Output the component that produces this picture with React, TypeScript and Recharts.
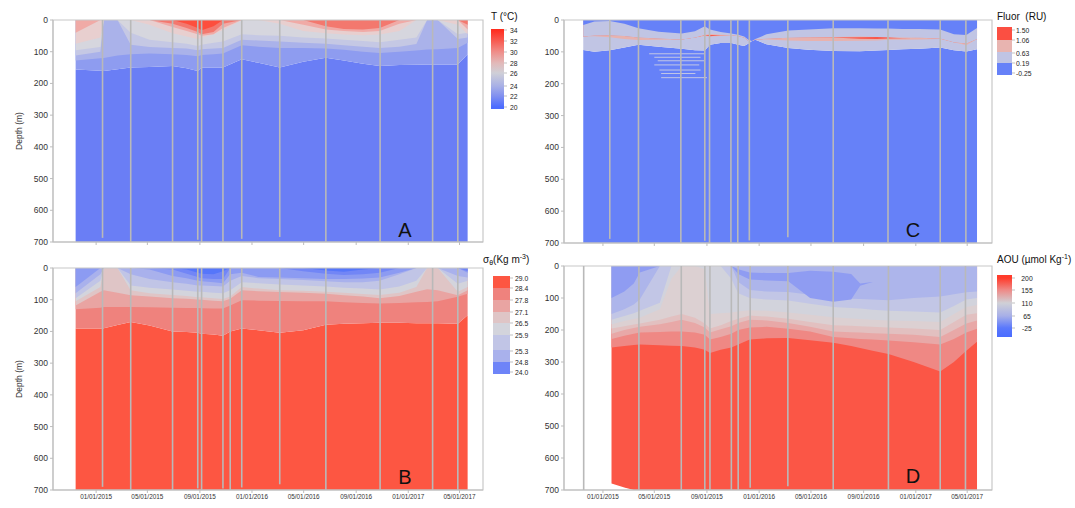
import React from "react";
import { ComposedChart, Area, XAxis, YAxis, ReferenceLine, ReferenceArea } from "recharts";

const FONT = '"Liberation Sans", Arial, Helvetica, sans-serif';
const AXIS_GRAY = "#bdbdbd";
const FRAME_GRAY = "#c8c8c8";
const STATION_GRAY = "#b9b9b9";

// x axis: days since 01/01/2015
const DATE_TICKS = [0, 120, 243, 365, 486, 609, 731, 851];
const DATE_LABELS = ["01/01/2015", "05/01/2015", "09/01/2015", "01/01/2016", "05/01/2016", "09/01/2016", "01/01/2017", "05/01/2017"];
const DEPTH_TICKS = [0, 100, 200, 300, 400, 500, 600, 700];

// ---- A: temperature, depth (m) of each isotherm ----
const A_DAYS = [-48, 10, 18, 50, 81, 125, 179, 212, 238, 247, 275, 297, 341, 380, 430, 485, 538, 580, 625, 664, 710, 750, 775, 800, 847, 870];
const A_T22 = [156, 160, 161, 155, 150, 148, 145, 152, 161, 150, 150, 150, 124, 135, 150, 132, 119, 128, 138, 145, 142, 141, 140, 140, 140, 108];
const A_T23 = [128, 121, 120, 112, 108, 106, 108, 110, 114, 110, 108, 106, 80, 84, 88, 88, 90, 94, 100, 104, 100, 96, 93, 92, 88, 72];
const A_T24 = [112, 100, 0, 0, 78, 85, 88, 90, 95, 92, 90, 88, 62, 65, 68, 72, 75, 80, 84, 88, 84, 76, 0, 0, 60, 55];
const A_T25 = [95, 85, 0, 0, 40, 62, 70, 75, 82, 78, 72, 68, 45, 48, 50, 55, 58, 62, 66, 70, 62, 55, 0, 0, 45, 40];
const A_T27 = [75, 55, 0, 0, 0, 15, 42, 52, 60, 56, 45, 32, 0, 0, 12, 35, 42, 46, 48, 46, 35, 0, 0, 0, 15, 45];
const A_T29 = [40, 0, 0, 0, 0, 0, 22, 35, 45, 50, 45, 25, 0, 0, 0, 15, 30, 35, 38, 35, 12, 0, 0, 0, 0, 30];
const A_T31 = [0, 0, 0, 0, 0, 0, 12, 25, 38, 45, 38, 12, 0, 0, 0, 0, 20, 28, 30, 25, 0, 0, 0, 0, 0, 15];
const A_T33 = [0, 0, 0, 0, 0, 0, 0, 12, 25, 32, 20, 0, 0, 0, 0, 0, 0, 0, 0, 0, 0, 0, 0, 0, 0, 0];
const A_STATIONS = [15, 81, 179, 238, 247, 297, 341, 430, 538, 665, 788, 847];
const A_STATION_ENDS = [687, 700, 700, 693, 700, 700, 690, 684, 700, 700, 700, 700];

// ---- B: sigma-theta ----
const B_DAYS = [-48, 10, 18, 50, 81, 125, 179, 212, 238, 247, 275, 297, 314, 341, 380, 430, 485, 538, 580, 625, 664, 710, 750, 775, 800, 847, 870];
const B_S290 = [191, 191, 190, 180, 170, 181, 200, 202, 204, 207, 210, 214, 200, 191, 196, 204, 196, 179, 176, 174, 173, 173, 174, 174, 174, 176, 149];
const B_S284 = [130, 125, 123, 123, 123, 124, 125, 126, 126, 127, 128, 128, 118, 102, 103, 104, 105, 105, 108, 110, 112, 110, 108, 107, 105, 91, 81];
const B_S278 = [118, 75, 70, 78, 86, 90, 95, 97, 99, 100, 103, 105, 97, 70, 73, 76, 78, 81, 86, 90, 95, 88, 75, 67, 70, 86, 70];
const B_S271 = [105, 60, 0, 0, 70, 80, 85, 88, 92, 92, 95, 98, 90, 60, 65, 70, 72, 75, 78, 82, 85, 78, 60, 0, 0, 75, 60];
const B_S265 = [95, 40, 0, 0, 55, 62, 68, 72, 75, 75, 78, 80, 70, 45, 48, 52, 55, 58, 62, 65, 68, 58, 40, 0, 0, 50, 40];
const B_S259 = [80, 20, 0, 0, 20, 35, 45, 50, 55, 55, 57, 58, 40, 25, 32, 35, 38, 42, 45, 45, 40, 20, 0, 0, 0, 25, 30];
const B_S253 = [60, 0, 0, 0, 0, 5, 25, 32, 40, 42, 45, 48, 20, 15, 28, 30, 32, 35, 35, 33, 30, 15, 0, 0, 0, 0, 15];
const B_S248 = [0, 0, 0, 0, 0, 0, 5, 18, 28, 32, 35, 35, 0, 0, 0, 0, 10, 18, 22, 20, 15, 0, 0, 0, 0, 0, 10];
const B_S240 = [0, 0, 0, 0, 0, 0, 0, 5, 15, 18, 20, 10, 0, 0, 0, 0, 0, 8, 12, 5, 0, 0, 0, 0, 0, 0, 0];
const B_STATIONS = [15, 81, 179, 238, 247, 297, 314, 341, 430, 538, 665, 788, 847];
const B_STATION_ENDS = [690, 700, 700, 695, 700, 695, 700, 692, 682, 700, 700, 700, 700];

// ---- C: fluorescence, top/bottom of each band ----
const C_DAYS = [-46, -20, 16, 50, 83, 130, 184, 215, 238, 250, 275, 300, 316, 330, 340, 348, 356, 382, 433, 480, 538, 600, 640, 667, 700, 740, 788, 820, 849, 874];
const C_LOW_TOP = [16, 5, 3, 12, 26, 37, 42, 35, 20, 30, 38, 42, 46, 52, 62, 66, 60, 45, 33, 30, 26, 26, 27, 27, 28, 28, 30, 45, 47, 25];
const C_LOW_BOT = [94, 100, 95, 86, 78, 84, 90, 95, 96, 78, 72, 72, 78, 82, 74, 66, 62, 76, 88, 93, 97, 98, 96, 94, 92, 90, 86, 95, 99, 92];
const C_MID_TOP = [52, 49, 48, 50, 55, 58, 61, 55, 46, 44, 46, 47, 50, 55, 66, 66, 61, 59, 56, 54, 53, 52, 53, 54, 55, 56, 58, 70, 74, 60];
const C_MID_BOT = [52, 51, 54, 60, 63, 62, 61, 55, 50, 52, 50, 48, 50, 55, 66, 66, 61, 61, 64, 66, 66, 65, 64, 62, 62, 61, 60, 70, 79, 60];
const C_HIGH_TOP = [52, 49, 48, 50, 55, 58, 61, 55, 48, 47, 48, 47, 50, 55, 66, 66, 61, 59, 56, 54, 55, 54, 53, 54, 57, 56, 58, 70, 74, 60];
const C_HIGH_BOT = [52, 49, 48, 50, 55, 58, 61, 55, 48, 51, 48, 47, 50, 55, 66, 66, 61, 59, 56, 54, 55, 59, 60, 58, 57, 56, 58, 70, 74, 60];
const C_STREAK_DEPTH = [106, 117, 128, 141, 157, 168, 181];
const C_STREAK_FROM = [108, 120, 128, 120, 132, 136, 136];
const C_STREAK_TO = [236, 228, 236, 225, 228, 216, 243];
const C_STATIONS = [16, 83, 182, 238, 249, 299, 315, 342, 432, 538, 666, 788, 848];
const C_STATION_ENDS = [687, 700, 700, 693, 700, 700, 700, 692, 682, 700, 700, 700, 700];

// ---- D: AOU ----
const D_DAYS = [20, 50, 72, 86, 133, 160, 184, 215, 238, 250, 275, 300, 316, 343, 383, 433, 484, 538, 580, 601, 630, 667, 726, 788, 820, 849, 874];
const D_BOTTOM = [680, 692, 700, 700, 700, 700, 700, 700, 700, 700, 700, 700, 700, 700, 700, 700, 700, 700, 700, 700, 700, 700, 700, 700, 700, 700, 700];
const D_A200 = [255, 250, 247, 245, 248, 249, 250, 255, 262, 272, 262, 255, 245, 230, 226, 225, 232, 240, 250, 256, 265, 275, 300, 330, 300, 265, 237];
const D_A170 = [228, 218, 212, 208, 206, 205, 205, 208, 215, 230, 222, 212, 200, 192, 190, 196, 205, 222, 226, 228, 230, 233, 238, 245, 228, 208, 196];
const D_A155 = [212, 200, 194, 190, 182, 175, 168, 178, 192, 208, 198, 188, 178, 168, 170, 178, 190, 205, 207, 208, 210, 212, 215, 222, 200, 180, 170];
const D_A140 = [195, 188, 183, 180, 168, 158, 150, 162, 180, 195, 185, 172, 165, 155, 158, 165, 175, 185, 187, 188, 190, 192, 195, 200, 175, 152, 148];
const D_A125 = [182, 172, 166, 162, 135, 40, 0, 0, 10, 150, 148, 145, 142, 138, 140, 145, 152, 160, 164, 166, 168, 170, 172, 175, 150, 128, 122];
const D_A110 = [168, 156, 148, 140, 115, 0, 0, 0, 0, 0, 0, 40, 85, 100, 105, 108, 118, 128, 131, 133, 137, 140, 142, 145, 125, 105, 100];
const D_A90 = [150, 135, 120, 105, 0, 0, 0, 0, 0, 0, 0, 0, 50, 75, 80, 81, 90, 100, 102, 103, 105, 107, 100, 95, 88, 82, 80];
const D_A65 = [100, 80, 55, 20, 0, 0, 0, 0, 0, 0, 0, 0, 0, 0, 0, 0, 0, 0, 0, 0, 0, 0, 0, 0, 0, 0, 0];
const D_LOW_BOT = [0, 0, 0, 0, 0, 0, 0, 0, 0, 0, 0, 0, 25, 42, 45, 48, 100, 112, 105, 62, 50, 50, 50, 50, 50, 50, 50];
const D_LOW_TOP = [0, 0, 0, 0, 0, 0, 0, 0, 0, 0, 0, 0, 10, 20, 22, 22, 15, 18, 25, 55, 50, 50, 50, 50, 50, 50, 50];
const D_STATIONS = [-45, 84, 183, 238, 250, 300, 316, 344, 432, 538, 667, 788, 847];
const D_STATION_ENDS = [700, 700, 700, 700, 700, 700, 700, 693, 688, 700, 700, 700, 700];

// colour bars
const T_LEVELS = [34, 32, 30, 28, 26, 24, 22, 20];
const SIGMA_LEVELS = [29.0, 28.4, 27.8, 27.1, 26.5, 25.9, 25.3, 24.8, 24.0];
const FLUOR_LEVELS = [1.5, 1.06, 0.63, 0.19, -0.25];
const AOU_LEVELS = [200, 155, 110, 65, -25];

const rowsA = A_DAYS.map((day, i) => ({
  day, t22: A_T22[i], t23: A_T23[i], t24: A_T24[i], t25: A_T25[i],
  t27: A_T27[i], t29: A_T29[i], t31: A_T31[i], t33: A_T33[i],
}));
const rowsB = B_DAYS.map((day, i) => ({
  day, s290: B_S290[i], s284: B_S284[i], s278: B_S278[i], s271: B_S271[i],
  s265: B_S265[i], s259: B_S259[i], s253: B_S253[i], s248: B_S248[i], s240: B_S240[i],
}));
const rowsC = C_DAYS.map((day, i) => ({
  day, lowTop: C_LOW_TOP[i], lowBot: C_LOW_BOT[i], midTop: C_MID_TOP[i],
  midBot: C_MID_BOT[i], highTop: C_HIGH_TOP[i], highBot: C_HIGH_BOT[i],
}));
const rowsD = D_DAYS.map((day, i) => ({
  day, bottom: D_BOTTOM[i], a200: D_A200[i], a170: D_A170[i], a155: D_A155[i],
  a140: D_A140[i], a125: D_A125[i], a110: D_A110[i], a90: D_A90[i], a65: D_A65[i],
  lowBot: D_LOW_BOT[i], lowTop: D_LOW_TOP[i],
}));

type Layer = { key: string; color: string; base?: number };

const LAYERS_A: Layer[] = [
  { key: "t22", color: "#6a7ef5", base: 700 },
  { key: "t22", color: "#8e9cf0" },
  { key: "t23", color: "#aab2ea" },
  { key: "t24", color: "#c5c8e4" },
  { key: "t25", color: "#d6d6de" },
  { key: "t27", color: "#e8cfcf" },
  { key: "t29", color: "#f0aaa6" },
  { key: "t31", color: "#f3786e" },
  { key: "t33", color: "#fd4e3d" },
];
const LAYERS_B: Layer[] = [
  { key: "s290", color: "#fd5642", base: 700 },
  { key: "s290", color: "#ef827d" },
  { key: "s284", color: "#e9a4a2" },
  { key: "s278", color: "#dfc5c6" },
  { key: "s271", color: "#d3d4dc" },
  { key: "s265", color: "#c1c5e6" },
  { key: "s259", color: "#a9b1ec" },
  { key: "s253", color: "#8c9bf2" },
  { key: "s248", color: "#7286f6" },
  { key: "s240", color: "#5676fa" },
];
const C_BLUE = "#6681f8";
const C_GRAY = "#c1c5e4";
const C_PINK = "#e8b2ae";
const LAYERS_C: Layer[] = [
  { key: "lowBot", color: C_BLUE, base: 700 },
  { key: "lowBot", color: C_GRAY },
  { key: "midBot", color: C_PINK },
  { key: "highBot", color: "#f9574a" },
  { key: "highTop", color: C_PINK },
  { key: "midTop", color: C_GRAY },
  { key: "lowTop", color: C_BLUE },
];
const LAYERS_D: Layer[] = [
  { key: "bottom", color: "#fb5646" },
  { key: "a200", color: "#ef8884" },
  { key: "a170", color: "#e8a8a7" },
  { key: "a155", color: "#e2c0c0" },
  { key: "a140", color: "#dcd0d2" },
  { key: "a125", color: "#d2d3dc" },
  { key: "a110", color: "#c2c6e6" },
  { key: "a90", color: "#adb5eb" },
  { key: "a65", color: "#8f9cf2" },
  { key: "lowBot", color: "#8f9cf2" },
  { key: "lowTop", color: "#adb5eb" },
];

interface SectionProps {
  left: number;
  top: number;
  width: number;
  height: number;
  margin: { top: number; right: number; bottom: number; left: number };
  yWidth: number;
  xHeight: number;
  domain: [number, number];
  rows: Record<string, number>[];
  layers: Layer[];
  stations: number[];
  stationEnds: number[];
  dates: boolean;
  streaks?: boolean;
}

function Section(p: SectionProps) {
  return (
    <div style={{ position: "absolute", left: p.left, top: p.top }}>
      <ComposedChart width={p.width} height={p.height} data={p.rows} margin={p.margin}>
        <XAxis
          dataKey="day"
          type="number"
          domain={p.domain}
          allowDataOverflow
          ticks={DATE_TICKS}
          interval={0}
          height={p.xHeight}
          tickSize={3}
          tickMargin={1}
          stroke={AXIS_GRAY}
          tick={{ fontSize: 6.4, fill: "#333", fontFamily: FONT }}
          tickFormatter={(v: number) => (p.dates ? DATE_LABELS[DATE_TICKS.indexOf(v)] ?? "" : "")}
        />
        <YAxis
          type="number"
          domain={[0, 700]}
          reversed
          ticks={DEPTH_TICKS}
          interval={0}
          width={p.yWidth}
          tickSize={3}
          tickMargin={2}
          stroke={AXIS_GRAY}
          tick={{ fontSize: 8.5, fill: "#333", fontFamily: FONT }}
        />
        {p.layers.map((l, i) => (
          <Area
            key={`${l.key}-${i}`}
            dataKey={l.key}
            type="linear"
            baseValue={l.base ?? 0}
            stroke="none"
            fill={l.color}
            fillOpacity={1}
            dot={false}
            activeDot={false}
            isAnimationActive={false}
          />
        ))}
        {p.streaks &&
          C_STREAK_DEPTH.map((d, i) => (
            <ReferenceLine
              key={`sk${i}`}
              segment={[{ x: C_STREAK_FROM[i], y: d }, { x: C_STREAK_TO[i], y: d }]}
              stroke="#c3c7e6"
              strokeWidth={1}
            />
          ))}
        {p.stations.map((s, i) => (
          <ReferenceLine
            key={`st${i}`}
            segment={[{ x: s, y: 0 }, { x: s, y: p.stationEnds[i] }]}
            stroke={STATION_GRAY}
            strokeWidth={1.6}
          />
        ))}
        <ReferenceArea x1={p.domain[0]} x2={p.domain[1]} y1={0} y2={700} fill="none" stroke={FRAME_GRAY} strokeWidth={1.2} />
      </ComposedChart>
    </div>
  );
}

const T_POS = [30, 41, 52, 63, 73, 86, 96, 107];
const T_COLORS = ["#ff2d1f", "#f75c52", "#ef8e8a", "#e2b9b9", "#cfcfd7", "#a8b0e6", "#8190f0", "#4c6cff"];
const SIGMA_POS = [278, 288, 300, 312, 323, 335, 351, 362, 372];
const SIGMA_EDGES = [276, 288, 300, 312, 323, 335, 350, 362, 374];
const SIGMA_COLORS = ["#fd5642", "#ef827d", "#e9a4a2", "#dfc5c6", "#d3d4dc", "#c1c5e6", "#a9b1ec", "#6e84f8"];
const FLUOR_POS = [30, 40, 53, 63, 73];
const FLUOR_EDGES = [27, 40, 52, 63, 75];
const FLUOR_COLORS = ["#fb4f42", "#e8b4b0", "#c0c4e4", "#6681f8"];
const AOU_POS = [278, 290, 303, 316, 328];
const AOU_COLORS = ["#ff3b2b", "#ee8a87", "#d0d0d6", "#a7afe8", "#5a78fc"];

function Legends() {
  const label = { fontSize: 6.8, fill: "#222", fontFamily: FONT } as const;
  const title = { fontSize: 10, fill: "#111", fontFamily: FONT } as const;
  const letter = { fontSize: 20, fill: "#111", fontFamily: FONT } as const;
  const axisTitle = { fontSize: 8.5, fill: "#333", fontFamily: FONT } as const;
  return (
    <svg width={1075} height={508} style={{ position: "absolute", left: 0, top: 0, pointerEvents: "none" }}>
      <defs>
        <linearGradient id="gT" x1="0" y1="0" x2="0" y2="1">
          {T_POS.map((y, i) => (
            <stop key={i} offset={(y - 29) / 80} stopColor={T_COLORS[i]} />
          ))}
        </linearGradient>
        <linearGradient id="gAOU" x1="0" y1="0" x2="0" y2="1">
          {AOU_POS.map((y, i) => (
            <stop key={i} offset={(y - 275) / 62} stopColor={AOU_COLORS[i]} />
          ))}
          <stop offset={1} stopColor="#4a6cff" />
        </linearGradient>
      </defs>

      {/* A */}
      <text x={491} y={20} {...title}>T (°C)</text>
      <rect x={491} y={29} width={13} height={80} fill="url(#gT)" />
      {T_LEVELS.map((v, i) => (
        <g key={i}>
          <line x1={504} x2={507} y1={T_POS[i]} y2={T_POS[i]} stroke="#999" strokeWidth={0.6} />
          <text x={510} y={T_POS[i]} dominantBaseline="central" {...label}>{v}</text>
        </g>
      ))}

      {/* B */}
      <text x={483} y={263} {...title}>
        σ<tspan fontSize={7} dy={2}>θ</tspan><tspan dy={-2}>(Kg m</tspan>
        <tspan fontSize={7} dy={-4}>-3</tspan><tspan dy={4}>)</tspan>
      </text>
      {SIGMA_COLORS.map((c, i) => (
        <rect key={i} x={493} y={SIGMA_EDGES[i]} width={17} height={SIGMA_EDGES[i + 1] - SIGMA_EDGES[i]} fill={c} />
      ))}
      {SIGMA_LEVELS.map((v, i) => (
        <g key={i}>
          <line x1={510} x2={513} y1={SIGMA_POS[i]} y2={SIGMA_POS[i]} stroke="#999" strokeWidth={0.6} />
          <text x={515} y={SIGMA_POS[i]} dominantBaseline="central" {...label}>{v.toFixed(1)}</text>
        </g>
      ))}

      {/* C */}
      <text x={997} y={20} {...title} xmlSpace="preserve">Fluor  (RU)</text>
      {FLUOR_COLORS.map((c, i) => (
        <rect key={i} x={997} y={FLUOR_EDGES[i]} width={15} height={FLUOR_EDGES[i + 1] - FLUOR_EDGES[i]} fill={c} />
      ))}
      {FLUOR_LEVELS.map((v, i) => (
        <g key={i}>
          <line x1={1012} x2={1015} y1={FLUOR_POS[i]} y2={FLUOR_POS[i]} stroke="#999" strokeWidth={0.6} />
          <text x={1016} y={FLUOR_POS[i]} dominantBaseline="central" {...label}>{v.toFixed(2)}</text>
        </g>
      ))}

      {/* D */}
      <text x={997} y={263} {...title}>
        AOU (µmol Kg<tspan fontSize={7} dy={-4}>-1</tspan><tspan dy={4}>)</tspan>
      </text>
      <rect x={997} y={275} width={15} height={62} fill="url(#gAOU)" />
      {AOU_LEVELS.map((v, i) => (
        <g key={i}>
          <line x1={1012} x2={1015} y1={AOU_POS[i]} y2={AOU_POS[i]} stroke="#999" strokeWidth={0.6} />
          <text x={1027} y={AOU_POS[i]} dominantBaseline="central" textAnchor="middle" {...label}>{v}</text>
        </g>
      ))}

      <text x={19} y={131} transform="rotate(-90 19 131)" textAnchor="middle" dominantBaseline="central" {...axisTitle}>Depth (m)</text>
      <text x={19} y={379} transform="rotate(-90 19 379)" textAnchor="middle" dominantBaseline="central" {...axisTitle}>Depth (m)</text>

      <text x={405} y={237} textAnchor="middle" {...letter}>A</text>
      <text x={405} y={484} textAnchor="middle" {...letter}>B</text>
      <text x={913} y={237} textAnchor="middle" {...letter}>C</text>
      <text x={913} y={483} textAnchor="middle" {...letter}>D</text>
    </svg>
  );
}

export default function App() {
  return (
    <div style={{ position: "absolute", left: 0, top: 0, width: 1075, height: 508, background: "#fff", overflow: "hidden", fontFamily: FONT }}>
      <Section left={0} top={0} width={540} height={255} margin={{ top: 20, right: 57, bottom: 0, left: 0 }}
        yWidth={53} xHeight={13} domain={[-101, 906]} rows={rowsA} layers={LAYERS_A}
        stations={A_STATIONS} stationEnds={A_STATION_ENDS} dates={false} />
      <Section left={0} top={250} width={540} height={258} margin={{ top: 18, right: 57, bottom: 0, left: 0 }}
        yWidth={53} xHeight={18} domain={[-101, 906]} rows={rowsB} layers={LAYERS_B}
        stations={B_STATIONS} stationEnds={B_STATION_ENDS} dates />
      <Section left={540} top={0} width={535} height={255} margin={{ top: 20, right: 83, bottom: 0, left: 0 }}
        yWidth={24} xHeight={12} domain={[-91, 909]} rows={rowsC} layers={LAYERS_C}
        stations={C_STATIONS} stationEnds={C_STATION_ENDS} dates={false} streaks />
      <Section left={540} top={250} width={535} height={258} margin={{ top: 16, right: 83, bottom: 0, left: 0 }}
        yWidth={24} xHeight={18} domain={[-91, 909]} rows={rowsD} layers={LAYERS_D}
        stations={D_STATIONS} stationEnds={D_STATION_ENDS} dates />
      <Legends />
    </div>
  );
}
